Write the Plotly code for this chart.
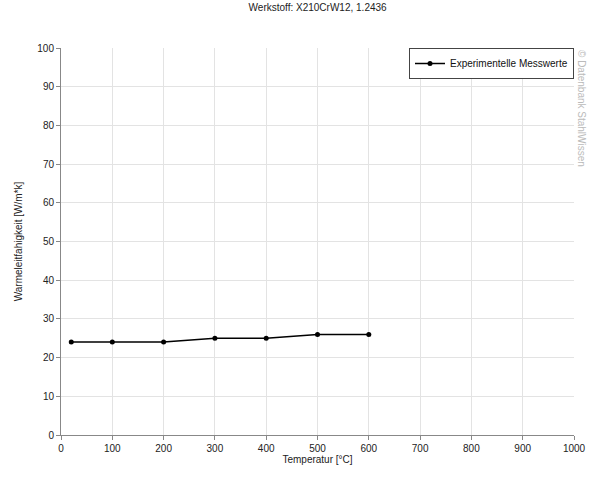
import plotly.graph_objects as go

temperatur = [20, 100, 200, 300, 400, 500, 600]
waermeleitfaehigkeit = [24, 24, 24, 25, 25, 26, 26]
x_ticks = [0, 100, 200, 300, 400, 500, 600, 700, 800, 900, 1000]
y_ticks = [0, 10, 20, 30, 40, 50, 60, 70, 80, 90, 100]

fig = go.Figure()
fig.add_trace(go.Scatter(
    x=temperatur, y=waermeleitfaehigkeit, mode="lines+markers",
    name="Experimentelle Messwerte",
    line=dict(color="black", width=1.5),
    marker=dict(color="black", size=5),
))

font = dict(family="Liberation Sans, Arial, sans-serif", size=10, color="#222")
fig.update_layout(
    width=605, height=484,
    margin=dict(l=61, r=31, t=48, b=49),
    paper_bgcolor="white", plot_bgcolor="white",
    font=font,
    title=dict(text="Werkstoff: X210CrW12, 1.2436", x=0.525, xanchor="center",
               y=0.991, yanchor="top", font=dict(size=10, color="#222")),
    showlegend=True,
    legend=dict(x=1, xanchor="right", y=1, yanchor="top",
                bordercolor="#444", borderwidth=1, bgcolor="white",
                font=dict(size=10, color="#111"),
                itemwidth=30, tracegroupgap=0),
    xaxis=dict(range=[0, 1000], tickvals=x_ticks, showgrid=True, gridcolor="#e3e3e3",
               showline=True, linecolor="#888", ticks="outside", ticklen=4, tickcolor="#888",
               automargin=False, tickfont=dict(size=10),
               title=dict(text="Temperatur [°C]", standoff=0, font=dict(size=10)),
               zeroline=False),
    yaxis=dict(range=[0, 100], tickvals=y_ticks, showgrid=True, gridcolor="#e3e3e3",
               showline=True, linecolor="#888", ticks="outside", ticklen=4, tickcolor="#888",
               automargin=False, tickfont=dict(size=10),
               title=dict(text="Warmeleitfahigkeit [W/m*k]", standoff=12, font=dict(size=10)),
               zeroline=False),
)
fig.add_annotation(text="© Datenbank StahlWissen", x=1.0, xref="paper", xanchor="left",
                   xshift=0, y=1, yref="paper", yanchor="top", textangle=90,
                   showarrow=False, font=dict(size=10, color="#bbb"))
fig.write_html("out.html", config={"displayModeBar": False},
               post_script="document.body.style.margin='0';")
